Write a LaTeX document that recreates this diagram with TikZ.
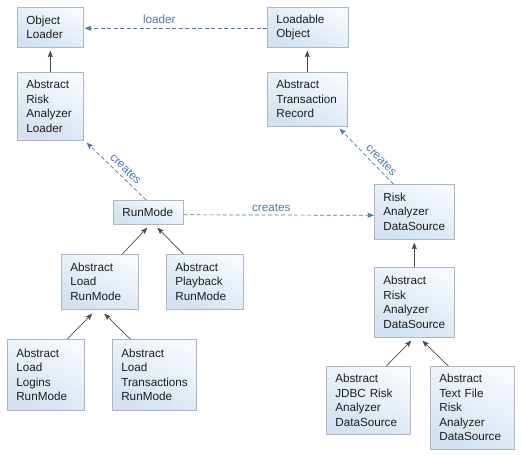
\documentclass[tikz,border=0pt]{standalone}
\usepackage{fontspec}
\setmainfont{Liberation Sans}
\usetikzlibrary{arrows.meta,shadows}
\definecolor{boxtop}{HTML}{F6F9FD}
\definecolor{boxbot}{HTML}{D3E1F0}
\definecolor{boxline}{HTML}{A9B7C6}
\definecolor{dep}{HTML}{4A78B0}
\definecolor{txt}{HTML}{1E1E1E}
\definecolor{inh}{HTML}{4A4A4A}
\tikzset{
  box/.style={draw=boxline, line width=0.6pt, anchor=north west, align=left,
    inner xsep=9pt, inner ysep=0pt, text=txt,
    font=\fontsize{11.7}{14.5}\selectfont,
    shading=axis, top color=boxtop, bottom color=boxbot, shading angle=-25,
    drop shadow={shadow xshift=0.9pt, shadow yshift=-0.9pt, fill=black!45, opacity=0.8}},
  inherit/.style={draw=inh, line width=0.7pt, -{Stealth[length=6.5pt,width=5pt,inset=1pt]}},
  uses/.style={draw=dep, line width=0.7pt, dash pattern=on 4pt off 2.5pt,
    -{Stealth[length=6.5pt,width=5pt,inset=1pt]}},
  deplabel/.style={text=dep, font=\fontsize{11.7}{14}\selectfont, inner sep=1pt}
}
\begin{document}
\begin{tikzpicture}[x=1pt,y=-1pt]
\useasboundingbox (0,0) rectangle (521,456);
% nodes
\node[box, minimum height=40pt, text width=48pt] (ol) at (17,7) {Object\\Loader};
\node[box, minimum height=68pt, text width=48pt] (aral) at (17,72) {Abstract\\Risk\\Analyzer\\Loader};
\node[box, minimum height=40pt, text width=63pt] (lo) at (267,7) {Loadable\\Object};
\node[box, minimum height=54pt, text width=62pt] (atr) at (267,72) {Abstract\\Transaction\\Record};
\node[box, minimum height=24pt, text width=52pt] (rm) at (113,200) {RunMode};
\node[box, minimum height=55pt, text width=62pt] (rds) at (374,184) {Risk\\Analyzer\\DataSource};
\node[box, minimum height=55pt, text width=59pt] (alr) at (61,254) {Abstract\\Load\\RunMode};
\node[box, minimum height=55pt, text width=59pt] (apr) at (166,254) {Abstract\\Playback\\RunMode};
\node[box, minimum height=70pt, text width=62pt] (arad) at (374,267) {Abstract\\Risk\\Analyzer\\DataSource};
\node[box, minimum height=71pt, text width=59pt] (allr) at (7,339) {Abstract\\Load\\Logins\\RunMode};
\node[box, minimum height=71pt, text width=66pt] (altr) at (112,339) {Abstract\\Load\\Transactions\\RunMode};
\node[box, minimum height=68pt, text width=66pt] (jdbc) at (326,366) {Abstract\\JDBC Risk\\Analyzer\\DataSource};
\node[box, minimum height=83pt, text width=66pt] (tf) at (430,366) {Abstract\\Text File\\Risk\\Analyzer\\DataSource};
% inheritance
\draw[inherit] (aral.north) -- ([yshift=-3pt]ol.south);
\draw[inherit] (atr.north) -- ([xshift=-0.5pt,yshift=-3pt]lo.south);
\draw[inherit] ([xshift=22.5pt]alr.north) -- ([xshift=-1pt,yshift=-3pt]rm.south);
\draw[inherit] ([xshift=-21.5pt]apr.north) -- ([xshift=9pt,yshift=-3pt]rm.south);
\draw[inherit] ([xshift=21.5pt]allr.north) -- ([xshift=-7.5pt,yshift=-4pt]alr.south);
\draw[inherit] ([xshift=-24pt]altr.north) -- ([xshift=4.5pt,yshift=-4pt]alr.south);
\draw[inherit] (arad.north) -- ([yshift=-3pt]rds.south);
\draw[inherit] ([xshift=18pt]jdbc.north) -- ([xshift=-3pt,yshift=-3pt]arad.south);
\draw[inherit] ([xshift=-24pt]tf.north) -- ([xshift=8pt,yshift=-3pt]arad.south);
% dependencies
\draw[uses] ([yshift=-1pt]lo.west) -- node[deplabel, above=3pt, pos=0.59] {loader} ([xshift=1pt,yshift=-1pt]ol.east);
\draw[uses] ([xshift=-2pt]rm.north) -- node[deplabel, sloped, above=3pt, pos=0.44] {creates} ([xshift=3pt,yshift=-2pt]aral.south east);
\draw[uses] ([yshift=-2.5pt]rm.east) -- node[deplabel, above=2pt, pos=0.46] {creates} ([yshift=-3.5pt]rds.west);
\draw[uses] ([xshift=-21pt]rds.north) -- node[deplabel, sloped, above=3pt, pos=0.33] {creates} ([xshift=-8pt,yshift=-2pt]atr.south east);
\end{tikzpicture}
\end{document}
